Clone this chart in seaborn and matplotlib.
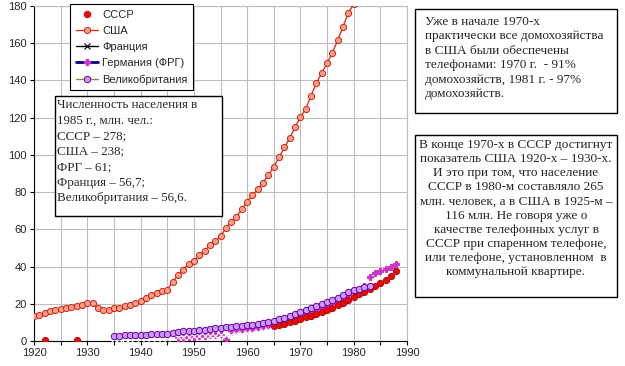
import matplotlib
matplotlib.use("Agg")
import matplotlib.pyplot as plt
import seaborn as sns
import numpy as np
from matplotlib.lines import Line2D
from matplotlib.patches import Rectangle

# ---- data (phones per 100 people) ----
usa_years = list(range(1920, 1981))
usa_vals = [13.5, 14.2, 15.0, 15.9, 16.4, 17.0, 17.7, 18.2, 18.9, 19.6,
            20.5, 20.2, 17.8, 16.8, 16.6, 17.5, 18.0, 18.7, 19.5, 20.5,
            21.6, 23.2, 24.7, 26.0, 26.8, 27.6, 31.7, 35.3, 38.4, 41.3,
            43.2, 46.0, 48.6, 51.4, 53.5, 56.4, 60.5, 64.1, 66.8, 70.8,
            74.9, 78.5, 81.5, 85.1, 89.2, 93.7, 98.7, 104.0, 109.0, 115.0,
            120.3, 124.8, 131.8, 138.5, 144.2, 149.2, 154.9, 161.7, 168.9, 176.4,
            181.0]

ussr_years = [1922, 1928] + list(range(1965, 1989))
ussr_vals = [0.3, 0.8,
             8.0, 8.6, 9.3, 10.2, 11.0, 11.8, 12.7, 13.6, 14.6, 15.7,
             16.8, 18.0, 19.3, 20.6, 22.0, 23.5, 25.0, 26.5, 28.0, 29.5,
             31.0, 33.0, 35.0, 37.5]

france_years = list(range(1935, 1986))
france_vals = [1.2, 1.2, 1.3, 1.3, 1.4, 1.4, 1.5, 1.5, 1.6, 1.6,
               1.7, 1.9, 2.1, 2.3, 2.4, 2.5, 2.6, 2.7, 2.8, 2.9,
               3.0, 3.2, 3.4, 3.6, 3.8, 4.1, 4.4, 4.8, 5.3, 5.8,
               6.3, 6.8, 7.3, 7.9, 8.5, 9.2, 10.0, 10.8, 11.8, 13.0,
               14.2, 15.6, 17.2, 19.2, 21.5, 24.0, 26.5, 28.8, 30.8, 32.3,
               33.7]

germany_years = list(range(1947, 1989))
germany_vals = [1.5, 1.8, 2.0, 2.3, 2.5, 2.8, 3.1, 3.4, 3.7, 1.3,
                5.0, 5.3, 5.7, 6.1, 6.6, 7.1, 7.6, 8.2, 8.9, 9.6,
                10.4, 11.3, 12.3, 13.3, 14.4, 15.5, 16.7, 18.0, 19.3, 20.5,
                21.7, 23.0, 24.5, 26.0, 27.5, 29.5, 34.5, 36.3, 37.5, 38.6,
                39.6, 41.2]

uk_years = list(range(1935, 1984))
uk_vals = [2.8, 2.9, 3.0, 3.1, 3.2, 3.3, 3.4, 3.5, 3.6, 3.8,
           4.0, 4.5, 4.9, 5.2, 5.4, 5.6, 5.9, 6.1, 6.4, 6.8,
           7.1, 7.3, 7.5, 7.8, 8.1, 8.4, 8.8, 9.3, 9.8, 10.4,
           11.0, 11.7, 12.5, 13.4, 14.5, 15.5, 16.5, 17.6, 18.8, 20.0,
           21.0, 22.0, 23.3, 24.8, 26.2, 27.5, 28.2, 29.0, 29.6]

legend_labels = ["СССР", "США", "Франция", "Германия (ФРГ)", "Великобритания"]

note_population = ("Численность населения в\n1985 г., млн. чел.:\nСССР – 278;\n"
                   "США – 238;\nФРГ – 61;\nФранция – 56,7;\nВеликобритания – 56,6.")
note_usa = ("Уже в начале 1970-х\nпрактически все домохозяйства\nв США были обеспечены\n"
            "телефонами: 1970 г.  - 91%\nдомохозяйств, 1981 г. - 97%\nдомохозяйств.")
note_ussr = ("В конце 1970-х в СССР достигнут\nпоказатель США 1920-х – 1930-х.\n"
             "И это при том, что население\nСССР в 1980-м составляло 265\n"
             "млн. человек, а в США в 1925-м –\n116 млн. Не говоря уже о\n"
             "качестве телефонных услуг в\nСССР при спаренном телефоне,\n"
             "или телефоне, установленном  в\nкоммунальной квартире.")

sns.set_theme(style="white")
plt.rcParams['font.family'] = ['Liberation Sans', 'DejaVu Sans']

W, H = 625, 366
fig = plt.figure(figsize=(W / 100, H / 100), dpi=100)
fig.patch.set_facecolor('white')

# plot area in pixels: x 34..407, y 6..341
ax = fig.add_axes([34 / W, 1 - 341 / H, (407 - 34) / W, (341 - 6) / H])
grid_c = '#bdbdbd'

sns.lineplot(x=germany_years, y=germany_vals, ax=ax, estimator=None, linestyle='none',
             marker='P', markersize=4.2, color='#cc33cc', markeredgecolor='#cc33cc', zorder=3)
sns.lineplot(x=france_years, y=france_vals, ax=ax, estimator=None, linestyle='none',
             marker='x', markersize=5, color='black', markeredgewidth=0.8, zorder=4)
sns.lineplot(x=ussr_years, y=ussr_vals, ax=ax, estimator=None, linestyle='none',
             marker='o', markersize=4.4, color='#e01010', markeredgecolor='#c00000', zorder=4)
sns.lineplot(x=uk_years, y=uk_vals, ax=ax, estimator=None, linestyle='none',
             marker='o', markersize=4.6, color='#cc99ff', markeredgecolor='#660099',
             markeredgewidth=0.7, zorder=5)
sns.lineplot(x=usa_years, y=usa_vals, ax=ax, estimator=None, color='#e0301e', linewidth=1,
             marker='o', markersize=4.4, markerfacecolor='#ffa08a', markeredgecolor='#d02010',
             markeredgewidth=0.7, zorder=6)

ax.set_xlim(1920, 1990)
ax.set_ylim(0, 180)
ax.set_xticks(np.arange(1920, 1991, 10))
ax.set_xticks(np.arange(1925, 1990, 10), minor=True)
ax.set_yticks(np.arange(0, 181, 20))
ax.grid(True, which='both', axis='x', color=grid_c, linewidth=0.8)
ax.grid(True, which='major', axis='y', color=grid_c, linewidth=0.8)
ax.set_axisbelow(True)
for s in ['top', 'right']:
    ax.spines[s].set_color(grid_c)
    ax.spines[s].set_linewidth(0.8)
for s in ['left', 'bottom']:
    ax.spines[s].set_color('black')
    ax.spines[s].set_linewidth(0.8)
ax.tick_params(axis='both', which='both', direction='out', length=3, width=0.8,
               color='black', labelsize=8, pad=2, bottom=True, left=True)
ax.set_xlabel('')
ax.set_ylabel('')

# legend
handles = [
    Line2D([], [], linestyle='none', marker='o', markersize=4.4, color='#e01010'),
    Line2D([], [], color='#e0301e', linewidth=1, marker='o', markersize=4.4,
           markerfacecolor='#ffa08a', markeredgecolor='#d02010', markeredgewidth=0.7),
    Line2D([], [], color='black', linewidth=1, marker='x', markersize=4, markeredgewidth=0.8),
    Line2D([], [], color='#000080', linewidth=2, marker='P', markersize=4,
           markerfacecolor='#cc33cc', markeredgecolor='#cc33cc'),
    Line2D([], [], color='#a08050', linewidth=1, marker='o', markersize=4.6,
           markerfacecolor='#cc99ff', markeredgecolor='#660099', markeredgewidth=0.7),
]
leg = ax.legend(handles, legend_labels, loc='upper left',
                bbox_to_anchor=((70 - 34) / 373, (341 - 4) / 335),
                fontsize=8, frameon=True, fancybox=False, framealpha=1,
                edgecolor='black', borderpad=0.5, labelspacing=0.56,
                handlelength=2.0, handletextpad=0.4, borderaxespad=0)
leg.get_frame().set_linewidth(0.8)
leg.set_zorder(10)


def box(x0, y0, x1, y1):
    fig.add_artist(Rectangle((x0 / W, 1 - y1 / H), (x1 - x0) / W, (y1 - y0) / H,
                             transform=fig.transFigure, facecolor='white',
                             edgecolor='black', linewidth=1, zorder=20))


serif = ['Liberation Serif', 'DejaVu Serif']

box(55, 96, 222, 216)
fig.text(57 / W, 1 - 99 / H, note_population, ha='left', va='top', fontsize=9.4,
         family=serif, linespacing=1.39, zorder=21)

box(415, 9, 617, 113)
fig.text(425 / W, 1 - 16 / H, note_usa, ha='left', va='top', fontsize=9.5,
         family=serif, linespacing=1.27, zorder=21)

box(415, 135, 617, 297)
fig.text(516 / W, 1 - 139 / H, note_ussr, ha='center', va='top', fontsize=9.5,
         family=serif, linespacing=1.24, zorder=21)

fig.savefig('out.png', dpi=100)
